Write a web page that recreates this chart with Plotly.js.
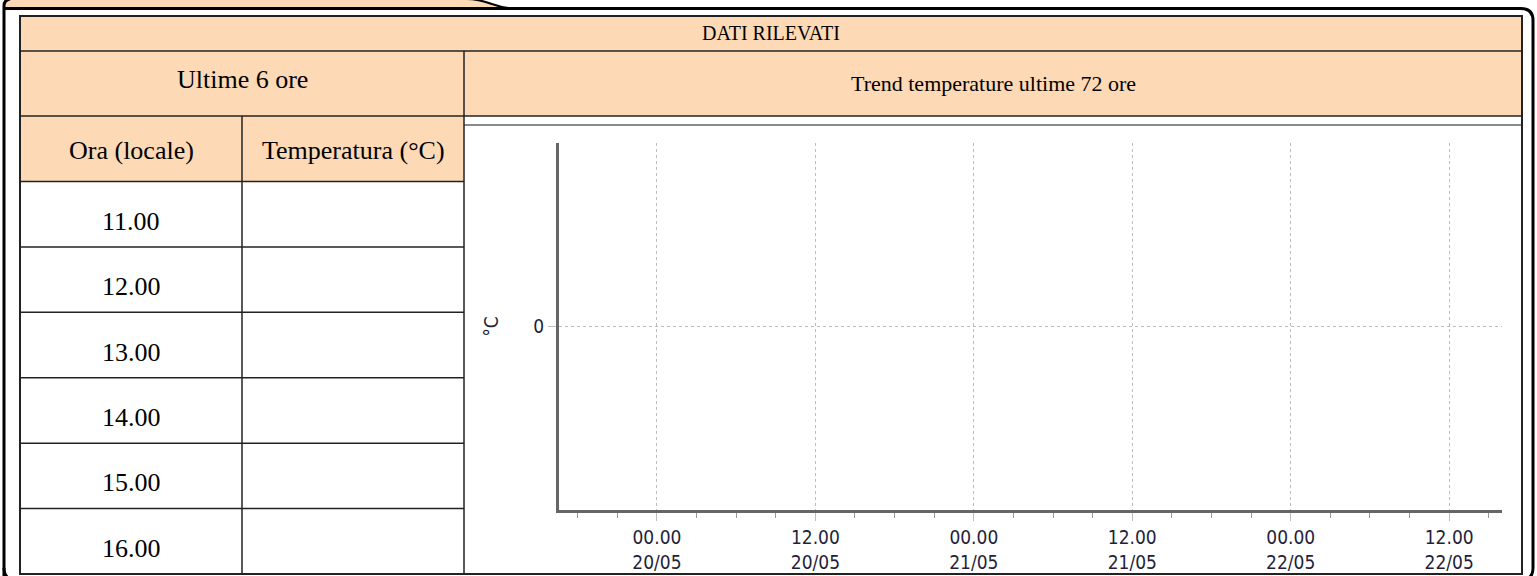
<!DOCTYPE html>
<html>
<head>
<meta charset="utf-8">
<script src="https://cdn.plot.ly/plotly-3.0.1.min.js"></script>
<style>html,body{margin:0;padding:0;background:#fff;}#chart{width:1537px;height:576px;}</style>
</head>
<body>
<div id="chart"></div>
<script>
// ---- data ----
const mainTitle = 'DATI RILEVATI';
const leftTitle = 'Ultime 6 ore';
const rightTitle = 'Trend temperature ultime 72 ore';
const colHeaders = ['Ora (locale)', 'Temperatura (°C)'];
const hours = ['11.00', '12.00', '13.00', '14.00', '15.00', '16.00'];
const temperatures = [null, null, null, null, null, null];

const trendTimes = [];
const trendTemps = [];
const xRange = ['2024-05-19 16:35', '2024-05-22 16:00'];
const tickDates = ['2024-05-20 00:00', '2024-05-20 12:00', '2024-05-21 00:00', '2024-05-21 12:00', '2024-05-22 00:00', '2024-05-22 12:00'];
const tickTimes = ['00.00', '12.00', '00.00', '12.00', '00.00', '12.00'];
const tickDays = ['20/05', '20/05', '21/05', '21/05', '22/05', '22/05'];
const yUnit = '°C';
const yTicks = [0];

// ---- layout helpers (pixel -> paper) ----
const W = 1537, H = 576;
const X = p => p / W;
const Y = p => 1 - p / H;
const peach = '#fdd9b6';
const border = '#222';

const shapes = [];
function rect(x0, y0, x1, y1, fill, lineColor, lw) {
  shapes.push({type: 'rect', xref: 'paper', yref: 'paper', x0: X(x0), x1: X(x1), y0: Y(y1), y1: Y(y0),
    fillcolor: fill || 'rgba(0,0,0,0)', line: {color: lineColor || 'rgba(0,0,0,0)', width: lw || 0}, layer: 'below'});
}
function line(x0, y0, x1, y1, color, lw) {
  shapes.push({type: 'line', xref: 'paper', yref: 'paper', x0: X(x0), x1: X(x1), y0: Y(y0), y1: Y(y1),
    line: {color: color, width: lw}, layer: 'below'});
}
function path(pts, fill, color, lw) {
  const d = pts.replace(/(-?[\d.]+),(-?[\d.]+)/g, (m, a, b) => X(+a).toFixed(5) + ',' + Y(+b).toFixed(5));
  shapes.push({type: 'path', xref: 'paper', yref: 'paper', path: d, fillcolor: fill || 'rgba(0,0,0,0)',
    line: {color: color || 'rgba(0,0,0,0)', width: lw || 0}, layer: 'below'});
}

// tab on top-left
path('M 4,-2 L 468,-2 C 490,-2 492,8.5 516,8.5 L 4,8.5 Z', peach, null, 0);
path('M 466,-1 C 490,-1 492,8.5 516,8.5', null, '#000', 2);
path('M 4,578 L 4,6 Q 4,0 10,-1', null, '#000', 3);
// outer rounded frame
path('M 4,8.5 L 1521,8.5 Q 1533,8.5 1533,20.5 L 1533,568 Q 1533,580 1521,580 L 16,580 Q 4,580 4,568', null, '#000', 3);

// table geometry
const tL = 20, tR = 1522, tT = 16, tB = 574;
const r1 = 51, r2 = 116, r3 = 181.5;
const c1 = 242, c2 = 464;
const rowH = (tB - r3) / hours.length;

rect(tL, tT, tR, r2, peach);
rect(tL, r2, c2, r3, peach);
line(c2, 125, tR, 125, '#8a8a8a', 2);
line(tL, r1, tR, r1, border, 1.5);
line(tL, r2, tR, r2, border, 1.5);
for (let i = 0; i < hours.length; i++) {
  line(tL, r3 + i * rowH, c2, r3 + i * rowH, border, 1.5);
}
line(c1, r2, c1, tB, border, 1.5);
line(c2, r1, c2, tB, border, 1.5);
rect(tL, tT, tR, tB, null, border, 2);

// annotations
const serif = 'Liberation Serif, Times New Roman, serif';
const annotations = [];
function txt(x, y, s, size) {
  annotations.push({xref: 'paper', yref: 'paper', x: X(x), y: Y(y), text: s, showarrow: false,
    xanchor: 'center', yanchor: 'middle', font: {family: serif, size: size, color: '#000'}});
}
txt((tL + tR) / 2, 33, mainTitle, 20);
txt((tL + c2) / 2, 80, leftTitle, 26);
txt((c2 + tR) / 2, 83, rightTitle, 22);
txt((tL + c1) / 2, 150, colHeaders[0], 26);
txt((c1 + c2) / 2, 150, colHeaders[1], 26);
hours.forEach((h, i) => {
  const yc = r3 + i * rowH + rowH / 2 + 7;
  txt((tL + c1) / 2, yc, h, 26);
  txt((c1 + c2) / 2, yc, temperatures[i] == null ? '' : String(temperatures[i]), 26);
});

const axFont = {family: 'DejaVu Sans Condensed, DejaVu Sans, sans-serif', size: 19, color: '#231f3a'};
const gridDash = '3px,3px';

const trace = {x: trendTimes, y: trendTemps, type: 'scatter', mode: 'lines', line: {color: '#c00', width: 2}, hoverinfo: 'skip'};

const layout = {
  width: W, height: H, autosize: false,
  margin: {l: 0, r: 0, t: 0, b: 0, pad: 0},
  paper_bgcolor: '#fff', plot_bgcolor: 'rgba(0,0,0,0)',
  showlegend: false,
  font: axFont,
  xaxis: {
    domain: [X(559), X(1502)], type: 'date', range: xRange,
    tickmode: 'array', tickvals: tickDates,
    ticktext: tickTimes.map((t, i) => t + '<br>' + tickDays[i]),
    showgrid: true, gridcolor: '#bdbdbd', griddash: gridDash, gridwidth: 1,
    ticks: 'outside', ticklen: 8, tickcolor: '#bdbdbd', tickwidth: 1,
    minor: {dtick: 3 * 3600 * 1000, tick0: '2024-05-20 00:00', ticks: 'outside', ticklen: 5, tickcolor: '#999', showgrid: false},
    showline: true, linecolor: '#666', linewidth: 3, zeroline: false,
    tickfont: axFont, fixedrange: true
  },
  yaxis: {
    domain: [Y(510), Y(143)], range: [-1, 1],
    tickmode: 'array', tickvals: yTicks, ticktext: yTicks.map(String),
    showgrid: true, gridcolor: '#bdbdbd', griddash: gridDash, gridwidth: 1,
    ticks: 'outside', ticklen: 8, tickcolor: '#bdbdbd',
    showline: true, linecolor: '#666', linewidth: 3, zeroline: false,
    tickfont: axFont, fixedrange: true,
    title: {text: yUnit, font: axFont, standoff: 30}
  },
  shapes: shapes,
  annotations: annotations
};

Plotly.newPlot('chart', [trace], layout, {staticPlot: true, displayModeBar: false});
</script>
</body>
</html>
